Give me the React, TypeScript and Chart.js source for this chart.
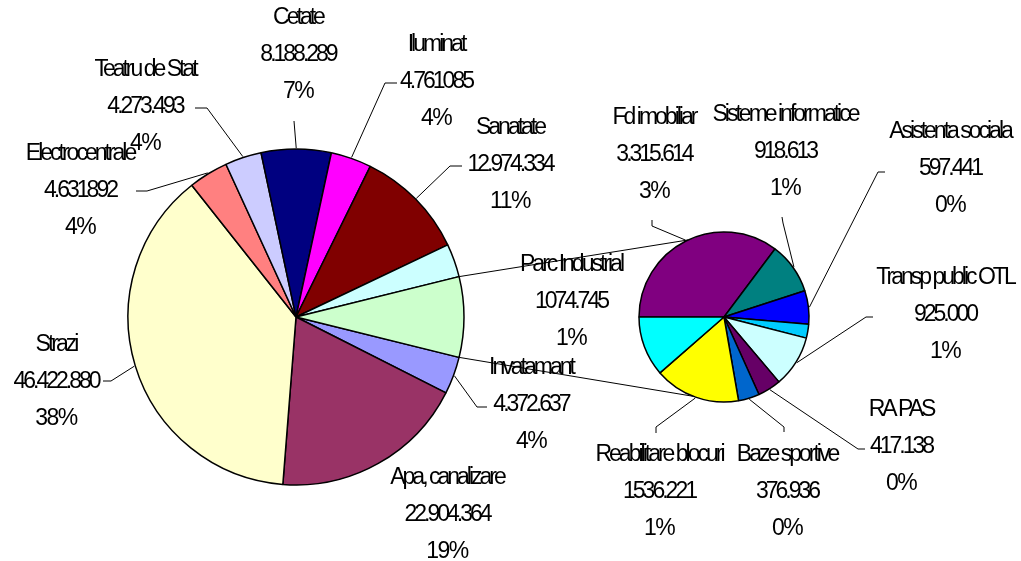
import React, { useEffect, useRef } from "react";
import { Chart, registerables } from "chart.js";

Chart.register(...registerables);

// ---------- DATA ----------
// Primary pie (clockwise, starting just after the "other" slice)
const primaryNames = [
  "Invatamant",
  "Apa, canalizare",
  "Strazi",
  "Electrocentrale",
  "Teatru de Stat",
  "Cetate",
  "Iluminat",
  "Sanatate",
  "",
  "Altele",
];
const primaryValuesBase = [
  4372637, 22904364, 46422880, 4631892, 4273493, 8188289, 4761085, 12974334,
  3900000,
];
const primaryValueText = [
  "4.372.637",
  "22.904.364",
  "46.422.880",
  "4.631892",
  "4.273.493",
  "8.188.289",
  "4.761085",
  "12.974.334",
  "",
  "",
];

// Secondary pie (clockwise, starting at 9 o'clock)
const secondaryNames = [
  "Fd imobiliar",
  "Sisteme informatice",
  "Asistenta sociala",
  "",
  "Transp public OTL",
  "RA PAS",
  "Baze sportive",
  "Reabilitare blocuri",
  "Parc Industrial",
];
const secondaryValues = [
  3315614, 918613, 597441, 250000, 925000, 417138, 376936, 1536221, 1074745,
];
const secondaryValueText = [
  "3.315.614",
  "918.613",
  "597.441",
  "",
  "925.000",
  "417.138",
  "376.936",
  "1536.221",
  "1074.745",
];

const otherValue = secondaryValues.reduce((a, b) => a + b, 0);
const primaryValues = [...primaryValuesBase, otherValue];
const grandTotal = primaryValues.reduce((a, b) => a + b, 0);

// ---------- STYLE ----------
const primaryColors = [
  "#9999FF",
  "#993366",
  "#FFFFCC",
  "#FF8080",
  "#CCCCFF",
  "#000080",
  "#FF00FF",
  "#800000",
  "#CCFFFF",
  "#CCFFCC",
];
const secondaryColors = [
  "#800080",
  "#008080",
  "#0000FF",
  "#00CCFF",
  "#CCFFFF",
  "#660066",
  "#0066CC",
  "#FFFF00",
  "#00FFFF",
];

type Layout = { x: number; y: number; leader: number[][] | null } | null;

const primaryLayout: Layout[] = [
  { x: 531, y: 368, leader: [[487, 407], [477, 407]] },
  { x: 447, y: 478, leader: null },
  { x: 56, y: 345, leader: [[103, 381], [111, 381]] },
  { x: 80, y: 154, leader: [[136, 191], [147, 191]] },
  { x: 145, y: 70, leader: [[195, 108], [207, 108]] },
  { x: 298, y: 18, leader: [[294, 121]] },
  { x: 436, y: 45, leader: [[397, 83], [385, 83]] },
  { x: 510, y: 128, leader: [[462, 166], [450, 166]] },
  null,
  null,
];
const secondaryLayout: Layout[] = [
  { x: 654, y: 118, leader: [[652, 220], [652, 226]] },
  { x: 785, y: 115, leader: [[782, 217], [783, 223]] },
  { x: 950, y: 132, leader: [[885, 172], [878, 172]] },
  null,
  { x: 945, y: 278, leader: [[873, 317], [866, 317]] },
  { x: 901, y: 410, leader: [[865, 449], [858, 449]] },
  { x: 787, y: 455, leader: [[784, 432], [784, 427]] },
  { x: 659, y: 455, leader: [[656, 433], [656, 427]] },
  { x: 571, y: 265, leader: null },
];

const W = 1021;
const H = 561;
const FONT = "23px 'Liberation Sans', Arial, sans-serif";
const LINE_GAP = 37;

function pct(v: number) {
  return Math.round((v / grandTotal) * 100) + "%";
}

function makeLabelPlugin(
  id: string,
  names: string[],
  values: number[],
  valueText: string[],
  layout: Layout[]
) {
  return {
    id,
    afterDatasetsDraw(chart: any) {
      const ctx = chart.ctx as CanvasRenderingContext2D;
      const arcs = chart.getDatasetMeta(0).data;
      ctx.save();
      // leaders
      ctx.strokeStyle = "#000";
      ctx.lineWidth = 1;
      arcs.forEach((arc: any, i: number) => {
        const l = layout[i];
        if (!l || !l.leader) return;
        const mid = (arc.startAngle + arc.endAngle) / 2;
        const r = arc.outerRadius + 1;
        ctx.beginPath();
        ctx.moveTo(l.leader[0][0], l.leader[0][1]);
        for (let k = 1; k < l.leader.length; k++) ctx.lineTo(l.leader[k][0], l.leader[k][1]);
        ctx.lineTo(arc.x + r * Math.cos(mid), arc.y + r * Math.sin(mid));
        ctx.stroke();
      });
      // texts
      ctx.fillStyle = "#000";
      ctx.font = FONT;
      ctx.textAlign = "center";
      ctx.textBaseline = "middle";
      arcs.forEach((_arc: any, i: number) => {
        const l = layout[i];
        if (!l || !names[i]) return;
        const lines = [names[i], valueText[i], pct(values[i])];
        lines.forEach((t, k) => {
          (ctx as any).letterSpacing = k === 2 ? "-1.5px" : "-3px";
          ctx.fillText(t, l.x, l.y + k * LINE_GAP);
        });
      });
      (ctx as any).letterSpacing = "0px";
      ctx.restore();
    },
  };
}

export default function App() {
  const bigRef = useRef<HTMLCanvasElement>(null);
  const smallRef = useRef<HTMLCanvasElement>(null);

  useEffect(() => {
    if (!bigRef.current || !smallRef.current) return;

    const bigCx = 296, bigCy = 317, bigR = 168, bigHalf = 175;
    const smCx = 724, smCy = 317, smR = 85, smHalf = 90;

    const otherFrac = otherValue / grandTotal;

    const big = new Chart(bigRef.current, {
      type: "pie",
      data: {
        labels: primaryNames,
        datasets: [
          {
            data: primaryValues,
            backgroundColor: primaryColors,
            borderColor: "#000",
            borderWidth: 1.5,
          },
        ],
      },
      options: {
        responsive: false,
        animation: false,
        devicePixelRatio: 1,
        radius: bigR,
        rotation: 90 + otherFrac * 180,
        layout: {
          padding: {
            left: bigCx - bigHalf,
            top: bigCy - bigHalf,
            right: W - bigCx - bigHalf,
            bottom: H - bigCy - bigHalf,
          },
        },
        plugins: {
          legend: { display: false },
          tooltip: { enabled: false },
          title: { display: false },
        },
      } as any,
      plugins: [
        makeLabelPlugin("bigLabels", primaryNames, primaryValues, primaryValueText, primaryLayout),
      ],
    });

    const connectorPlugin = {
      id: "connectors",
      afterDatasetsDraw(chart: any) {
        const ctx = chart.ctx as CanvasRenderingContext2D;
        const otherArc: any = big.getDatasetMeta(0).data[primaryValues.length - 1];
        const smArc: any = chart.getDatasetMeta(0).data[0];
        if (!otherArc || !smArc) return;
        const bR = otherArc.outerRadius;
        const sR = smArc.outerRadius;
        const topAng = (-115 * Math.PI) / 180;
        const botAng = (111 * Math.PI) / 180;
        ctx.save();
        ctx.strokeStyle = "#000";
        ctx.lineWidth = 1;
        ctx.beginPath();
        ctx.moveTo(otherArc.x + bR * Math.cos(otherArc.startAngle), otherArc.y + bR * Math.sin(otherArc.startAngle));
        ctx.lineTo(smArc.x + sR * Math.cos(topAng), smArc.y + sR * Math.sin(topAng));
        ctx.moveTo(otherArc.x + bR * Math.cos(otherArc.endAngle), otherArc.y + bR * Math.sin(otherArc.endAngle));
        ctx.lineTo(smArc.x + sR * Math.cos(botAng), smArc.y + sR * Math.sin(botAng));
        ctx.stroke();
        ctx.restore();
      },
    };

    const small = new Chart(smallRef.current, {
      type: "pie",
      data: {
        labels: secondaryNames,
        datasets: [
          {
            data: secondaryValues,
            backgroundColor: secondaryColors,
            borderColor: "#000",
            borderWidth: 1.5,
          },
        ],
      },
      options: {
        responsive: false,
        animation: false,
        devicePixelRatio: 1,
        radius: smR,
        rotation: 270,
        layout: {
          padding: {
            left: smCx - smHalf,
            top: smCy - smHalf,
            right: W - smCx - smHalf,
            bottom: H - smCy - smHalf,
          },
        },
        plugins: {
          legend: { display: false },
          tooltip: { enabled: false },
          title: { display: false },
        },
      } as any,
      plugins: [
        connectorPlugin,
        makeLabelPlugin("smallLabels", secondaryNames, secondaryValues, secondaryValueText, secondaryLayout),
      ],
    });

    return () => {
      small.destroy();
      big.destroy();
    };
  }, []);

  return (
    <div
      style={{
        position: "fixed",
        left: 0,
        top: 0,
        width: W,
        height: H,
        background: "#fff",
        overflow: "hidden",
      }}
    >
      <canvas
        ref={bigRef}
        width={W}
        height={H}
        style={{ position: "absolute", left: 0, top: 0, width: W, height: H }}
      />
      <canvas
        ref={smallRef}
        width={W}
        height={H}
        style={{ position: "absolute", left: 0, top: 0, width: W, height: H }}
      />
    </div>
  );
}
